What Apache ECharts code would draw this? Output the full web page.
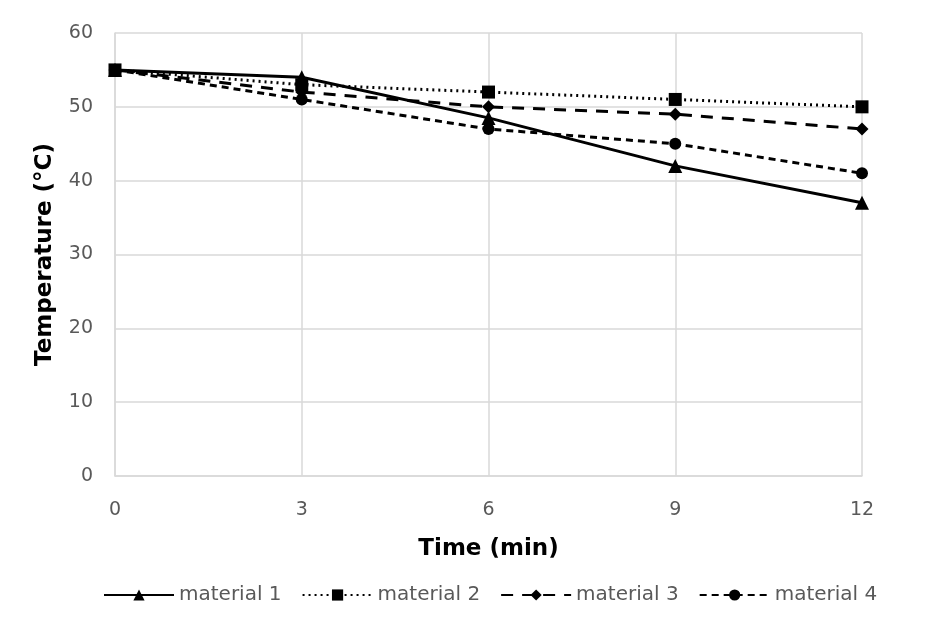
<!DOCTYPE html>
<html>
<head>
<meta charset="utf-8">
<script src="https://cdn.jsdelivr.net/npm/echarts@6/dist/echarts.min.js"></script>
<style>
  html, body { margin: 0; padding: 0; background: #fff; }
  #main { width: 932px; height: 640px; }
</style>
</head>
<body>
<div id="main"></div>
<script>
// data
var times = [0, 3, 6, 9, 12];
var material1 = [55, 54, 48.5, 42, 37];
var material2 = [55, 53, 52, 51, 50];
var material3 = [55, 52, 50, 49, 47];
var material4 = [55, 51, 47, 45, 41];
var yTicks = [0, 10, 20, 30, 40, 50, 60];
var seriesNames = ['material 1', 'material 2', 'material 3', 'material 4'];

function pairs(vals) {
  return times.map(function (t, i) { return [t, vals[i]]; });
}

var font = 'DejaVu Sans';
var grey = '#595959';

function lineSeries(name, vals, symbol, size, dash) {
  return {
    name: name,
    type: 'line',
    data: pairs(vals),
    symbol: symbol,
    symbolSize: size,
    color: '#000',
    lineStyle: { color: '#000', width: 3, type: dash },
    itemStyle: { color: '#000' },
    z: 3
  };
}

var chart = echarts.init(document.getElementById('main'));
chart.setOption({
  animation: false,
  backgroundColor: '#fff',
  grid: { left: 115, right: 70, top: 33, bottom: 164 },
  xAxis: {
    type: 'value',
    min: 0,
    max: 12,
    interval: 3,
    name: 'Time (min)',
    nameLocation: 'middle',
    nameGap: 62,
    nameTextStyle: { fontFamily: font, fontSize: 23, fontWeight: 'bold', color: '#000' },
    axisLine: { show: true, lineStyle: { color: '#d9d9d9', width: 1.5 } },
    axisTick: { show: false },
    axisLabel: { fontFamily: font, fontSize: 19, color: grey, margin: 25 },
    splitLine: { show: true, lineStyle: { color: '#d9d9d9', width: 1.5 } }
  },
  yAxis: {
    type: 'value',
    min: yTicks[0],
    max: yTicks[yTicks.length - 1],
    interval: 10,
    name: 'Temperature (°C)',
    nameLocation: 'middle',
    nameGap: 58,
    nameTextStyle: { fontFamily: font, fontSize: 23, fontWeight: 'bold', color: '#000' },
    axisLine: { show: true, lineStyle: { color: '#d9d9d9', width: 1.5 } },
    axisTick: { show: false },
    axisLabel: { fontFamily: font, fontSize: 19, color: grey, margin: 22 },
    splitLine: { show: true, lineStyle: { color: '#d9d9d9', width: 1.5 } }
  },
  legend: {
    bottom: 30,
    left: 98,
    data: seriesNames,
    itemWidth: 70,
    itemHeight: 14,
    itemGap: 20,
    textStyle: { fontFamily: font, fontSize: 20, color: grey }
  },
  series: [
    lineSeries(seriesNames[0], material1, 'triangle', 14, 'solid'),
    lineSeries(seriesNames[1], material2, 'rect', 13, [2, 4]),
    lineSeries(seriesNames[2], material3, 'diamond', 13, [12, 9]),
    lineSeries(seriesNames[3], material4, 'circle', 12, [7, 5])
  ]
});
</script>
</body>
</html>
